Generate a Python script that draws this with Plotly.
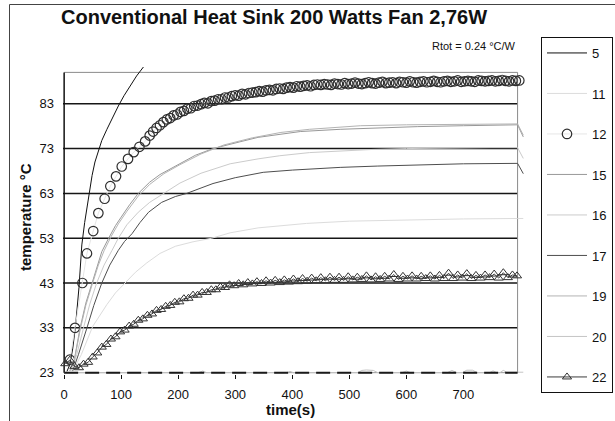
import plotly.graph_objects as go

# ---------------- data ----------------
X_TICKS = [0, 100, 200, 300, 400, 500, 600, 700]
Y_TICKS = [23, 33, 43, 53, 63, 73, 83]
X_FRAME = 795
Y_FRAME = 90

t5 = [5, 10, 15, 20, 26, 31, 36, 43, 49, 54, 60, 66, 75, 85, 95, 105, 115, 127, 139, 150]
T5 = [23.3, 24.8, 28.3, 33.5, 42.0, 51.5, 56.5, 62.8, 67.0, 70.0, 72.5, 74.8, 77.3, 80.0, 82.5, 84.8, 86.8, 89.2, 91.2, 93.0]

t11 = [15, 30, 50, 75, 90, 107, 125, 145, 168, 195, 226, 259, 291, 340, 425, 500, 600, 700, 795, 805]
T11 = [23.3, 27.0, 33.3, 38.2, 40.8, 43.0, 45.4, 47.5, 49.6, 51.2, 52.2, 53.0, 54.2, 55.3, 56.3, 56.8, 57.1, 57.3, 57.4, 57.4]

t12_a = [10, 19, 32, 40, 51, 60, 71, 81, 91, 101, 112, 122, 132, 142]
T12_a = [25.9, 33.0, 43.0, 49.6, 54.6, 58.6, 61.8, 64.6, 66.8, 69.0, 70.7, 72.2, 73.4, 74.6]
t12_b = list(range(150, 799, 6))
T12_b = [75.9, 76.8, 77.6, 78.2, 78.9, 79.5, 79.8, 80.4, 80.6, 81.2,
         81.4, 81.9, 82.0, 82.5, 82.6, 82.9, 83.2, 83.1, 83.6, 83.7,
         84.0, 84.0, 84.4, 84.4, 84.7, 84.9, 84.8, 85.2, 85.1, 85.4,
         85.5, 85.6, 85.8, 85.7, 86.0, 86.1, 86.0, 86.3, 86.4, 86.3,
         86.6, 86.7, 86.6, 86.9, 86.8, 87.0, 87.1, 86.9, 87.2, 87.3,
         87.2, 87.4, 87.3, 87.2, 87.5, 87.4, 87.3, 87.6, 87.4, 87.5,
         87.7, 87.5, 87.4, 87.6, 87.8, 87.6, 87.5, 87.7, 87.9, 87.6,
         87.7, 87.8, 87.6, 87.9, 87.8, 87.7, 88.0, 87.8, 87.7, 87.9,
         88.0, 87.8, 87.9, 88.1, 87.9, 87.8, 88.0, 88.1, 87.9, 88.0,
         88.2, 87.9, 88.0, 88.1, 88.0, 87.9, 88.2, 88.1, 88.0, 88.1,
         88.2, 88.0, 88.1, 88.3, 88.1, 88.0, 88.2, 88.1, 88.2]

t15 = [10, 18, 28, 38, 49, 58, 66, 78, 90, 100, 115, 130, 150, 168, 185, 203, 230, 261, 290, 308, 340, 378, 414, 484, 550, 620, 700, 760, 795, 805]
T15 = [23.4, 26.0, 33.0, 38.5, 43.0, 47.0, 50.0, 53.0, 55.8, 57.7, 60.5, 63.0, 65.5, 67.2, 68.4, 69.5, 71.5, 73.0, 74.0, 74.5, 75.5, 76.2, 76.8, 77.3, 77.6, 77.9, 78.1, 78.2, 78.3, 75.6]

t16 = [12, 22, 34, 45, 57, 70, 84, 95, 110, 130, 150, 175, 203, 240, 291, 340, 378, 430, 484, 540, 600, 650, 700, 750, 795, 805]
T16 = [23.4, 27.0, 33.0, 38.3, 43.0, 47.0, 50.3, 53.0, 56.0, 58.8, 61.0, 63.0, 65.3, 67.5, 69.6, 70.7, 71.4, 72.1, 72.5, 72.8, 73.0, 73.1, 73.1, 73.2, 73.2, 70.8]

t17 = [15, 25, 40, 52, 66, 80, 95, 106, 119, 133, 148, 171, 195, 215, 240, 261, 300, 349, 400, 484, 550, 600, 700, 795, 805]
T17 = [23.4, 27.0, 33.0, 38.0, 43.0, 47.0, 50.3, 52.3, 54.0, 56.5, 58.8, 61.0, 62.3, 63.0, 64.2, 65.2, 66.5, 67.7, 68.2, 68.8, 69.1, 69.3, 69.6, 69.7, 67.4]

t19 = [10, 18, 28, 38, 49, 60, 70, 82, 95, 110, 130, 150, 175, 203, 240, 280, 330, 380, 430, 480, 520, 600, 700, 795, 805]
T19 = [23.4, 25.8, 32.5, 38.0, 42.6, 47.0, 50.2, 53.3, 56.2, 59.0, 62.4, 65.0, 67.4, 69.4, 71.8, 73.8, 75.4, 76.6, 77.3, 77.8, 78.1, 78.3, 78.4, 78.5, 76.0]

t20 = [0, 30, 60, 100, 150, 200, 235, 243, 250, 300, 350, 390, 396, 402, 450, 515, 522, 530, 542, 550, 592, 600, 607, 672, 680, 688, 698, 706, 716, 724, 746, 752, 758, 764, 770, 776, 790, 805]
T20 = [23.0, 23.0, 23.1, 23.0, 23.1, 23.0, 23.0, 23.35, 23.0, 23.05, 23.0, 23.0, 23.3, 23.0, 23.0, 23.0, 23.5, 23.6, 23.5, 23.0, 23.0, 23.35, 23.0, 23.0, 23.5, 23.0, 23.0, 23.55, 23.55, 23.0, 23.0, 23.4, 23.0, 23.0, 23.5, 23.1, 23.1, 23.1]

t22 = list(range(2, 795, 8))
T22 = [25.0, 25.8, 24.4, 24.1, 24.9, 25.3, 26.5, 27.4, 28.7, 29.3,
       30.5, 31.0, 32.1, 32.5, 33.4, 33.8, 34.7, 35.0, 35.8, 36.1,
       36.9, 37.1, 37.8, 38.0, 38.7, 38.8, 39.5, 39.6, 40.3, 40.3,
       40.9, 40.9, 41.5, 41.5, 42.1, 42.0, 42.6, 42.4, 42.9, 42.6,
       43.1, 42.8, 43.3, 42.9, 43.5, 43.0, 43.6, 43.1, 43.7, 43.2,
       43.9, 43.3, 44.0, 43.4, 44.1, 43.5, 44.2, 43.5, 44.3, 43.6,
       44.3, 43.6, 44.4, 43.7, 44.3, 43.8, 44.6, 43.7, 44.4, 43.8,
       44.5, 43.9, 44.9, 43.8, 44.5, 43.9, 44.6, 43.9, 44.5, 44.0,
       44.6, 43.9, 44.7, 44.0, 45.2, 44.0, 44.8, 44.1, 45.1, 44.0,
       44.7, 44.1, 44.8, 44.2, 45.0, 44.1, 45.3, 44.2, 44.8, 44.6]

# ---------------- layout geometry ----------------
W, H = 615, 421
ML, MR, MT, MB = 63, 90, 67, 47
PW = W - ML - MR
PH = H - MT - MB


def pxx(x):
    return (x - ML) / PW


def pxy(y):
    return (H - MB - y) / PH


FONT = "Liberation Sans, Arial, sans-serif"

fig = go.Figure()


def add_line(name, x, y, color, width=1.0):
    fig.add_trace(go.Scatter(x=x, y=y, mode="lines", name=name, legendgroup=name,
                             line=dict(color=color, width=width)))


add_line("5", t5, T5, "#111111")
add_line("11", t11, T11, "#dcdcdc")
fig.add_trace(go.Scatter(x=t12_a + t12_b, y=T12_a + T12_b, mode="lines+markers", name="12",
                         legendgroup="12", cliponaxis=False,
                         line=dict(color="#e6e6e6", width=1),
                         marker=dict(symbol="circle-open", size=9.5, color="#2e2e2e",
                                     line=dict(width=1.2, color="#2e2e2e"))))
add_line("15", t15, T15, "#989898")
add_line("16", t16, T16, "#cbcbcb")
add_line("17", t17, T17, "#4e4e4e")
add_line("19", t19, T19, "#b3b3b3")
add_line("20", t20, T20, "#c4c4c4")
fig.add_trace(go.Scatter(x=t22, y=T22, mode="lines+markers", name="22", legendgroup="22",
                         cliponaxis=False,
                         line=dict(color="#3c3c3c", width=1),
                         marker=dict(symbol="triangle-up-open", size=8, color="#333333",
                                     line=dict(width=1, color="#333333"))))

shapes = []
for v in Y_TICKS[1:]:
    shapes.append(dict(type="line", xref="x", yref="y", x0=-2, x1=X_FRAME, y0=v, y1=v,
                       line=dict(color="#161616", width=1.5), layer="below"))
shapes.append(dict(type="line", xref="x", yref="y", x0=0, x1=X_FRAME, y0=Y_FRAME, y1=Y_FRAME,
                   line=dict(color="#8a8a8a", width=1), layer="below"))
shapes.append(dict(type="line", xref="x", yref="y", x0=X_FRAME, x1=X_FRAME, y0=Y_TICKS[0], y1=Y_FRAME,
                   line=dict(color="#8a8a8a", width=1), layer="below"))
shapes.append(dict(type="line", xref="x", yref="y", x0=0, x1=0, y0=Y_TICKS[0], y1=Y_FRAME,
                   line=dict(color="#111111", width=1.5), layer="below"))
shapes.append(dict(type="line", xref="x", yref="y", x0=0, x1=X_FRAME, y0=Y_TICKS[0], y1=Y_TICKS[0],
                   line=dict(color="#9a9a9a", width=1), layer="below"))
shapes.append(dict(type="line", xref="x", yref="y", x0=0, x1=X_FRAME, y0=Y_TICKS[0], y1=Y_TICKS[0],
                   line=dict(color="#1a1a1a", width=2, dash="14px,7px"), layer="above"))
# outer chart border
shapes.append(dict(type="rect", xref="paper", yref="paper",
                   x0=pxx(9.5), x1=pxx(625), y0=pxy(430), y1=pxy(4.5),
                   line=dict(color="#444444", width=1), fillcolor="rgba(0,0,0,0)", layer="below"))

annotations = [
    dict(text="<b>Conventional Heat Sink 200 Watts Fan 2,76W</b>", xref="paper", yref="paper",
         x=pxx(274), y=pxy(17), xanchor="center", yanchor="middle", showarrow=False,
         font=dict(family=FONT, size=20, color="#111111")),
    dict(text="Rtot = 0.24 °C/W", xref="paper", yref="paper",
         x=pxx(474), y=pxy(46), xanchor="center", yanchor="middle", showarrow=False,
         font=dict(family=FONT, size=11, color="#111111")),
    dict(text="<b>temperature °C</b>", xref="paper", yref="paper", textangle=-90,
         x=pxx(25), y=pxy(217), xanchor="center", yanchor="middle", showarrow=False,
         font=dict(family=FONT, size=15, color="#111111")),
    dict(text="<b>time(s)</b>", xref="paper", yref="paper",
         x=pxx(290), y=pxy(409), xanchor="center", yanchor="middle", showarrow=False,
         font=dict(family=FONT, size=15, color="#111111")),
]

fig.update_layout(
    width=W, height=H,
    margin=dict(l=ML, r=MR, t=MT, b=MB, autoexpand=False),
    paper_bgcolor="white", plot_bgcolor="white",
    font=dict(family=FONT, size=13, color="#111111"),
    shapes=shapes, annotations=annotations,
    showlegend=True,
    legend=dict(x=pxx(541), y=pxy(37), xanchor="left", yanchor="top",
                bordercolor="#111111", borderwidth=1, bgcolor="white",
                font=dict(family=FONT, size=13, color="#111111"),
                tracegroupgap=20.6, itemwidth=40, traceorder="grouped",
                maxheight=400),
    xaxis=dict(range=[-2, 808], tickvals=X_TICKS, showgrid=False, zeroline=False, showline=False,
               ticks="outside", ticklen=4, tickcolor="#111111", tickwidth=1,
               tickfont=dict(family=FONT, size=13, color="#111111"), ticklabelstandoff=4),
    yaxis=dict(range=[22.7, 91.2], tickvals=Y_TICKS, showgrid=False, zeroline=False, showline=False,
               ticks="", tickfont=dict(family=FONT, size=13, color="#111111"), ticklabelstandoff=8),
)

fig.write_html("out.html", config={"displayModeBar": False},
               post_script="document.body.style.margin='0';document.body.style.overflow='hidden';")
